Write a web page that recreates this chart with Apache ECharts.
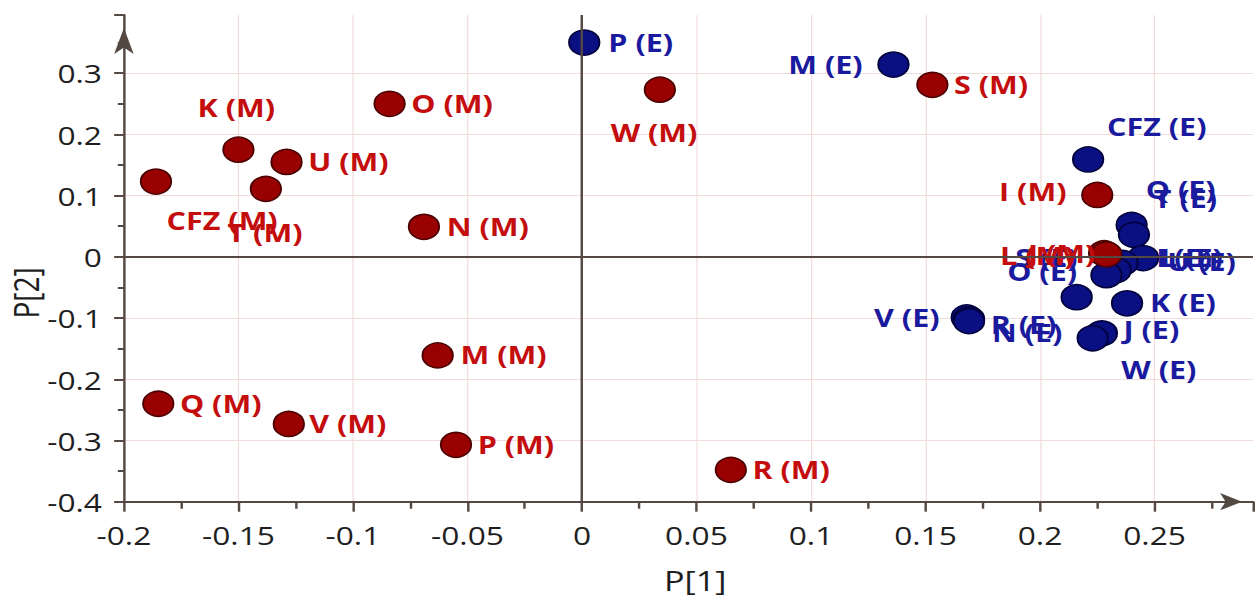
<!DOCTYPE html>
<html>
<head>
<meta charset="utf-8">
<script src="https://cdn.jsdelivr.net/npm/echarts@6/dist/echarts.min.js"></script>
<style>
  html, body { margin: 0; padding: 0; background: #fff; overflow: hidden; }
  /* the plot is laid out narrow and widened horizontally */
  #chart { width: 1029px; height: 605px; transform: scaleX(1.2196); transform-origin: 0 0; }
</style>
</head>
<body>
<div id="chart"></div>
<script>
// Scores of the (M) samples
const mNames = ['K', 'CFZ', 'T', 'U', 'O', 'N', 'W', 'M', 'P', 'V', 'Q', 'R', 'S', 'I', 'L', 'J'];
const mP1 = [-0.150, -0.186, -0.138, -0.129, -0.084, -0.069, 0.034, -0.063, -0.055, -0.128, -0.185, 0.065, 0.153, 0.225, 0.228, 0.229];
const mP2 = [0.175, 0.123, 0.111, 0.155, 0.250, 0.049, 0.273, -0.161, -0.307, -0.273, -0.240, -0.348, 0.281, 0.101, 0.006, 0.004];

// Scores of the (E) samples
const eNames = ['P', 'M', 'CFZ', 'Q', 'T', 'U', 'I', 'L', 'O', 'S', 'K', 'J', 'W', 'V', 'R', 'N'];
const eP1 = [0.001, 0.136, 0.221, 0.240, 0.241, 0.245, 0.236, 0.233, 0.229, 0.216, 0.238, 0.227, 0.223, 0.168, 0.169, 0.169];
const eP2 = [0.350, 0.314, 0.159, 0.052, 0.036, -0.002, -0.010, -0.022, -0.030, -0.066, -0.076, -0.125, -0.133, -0.099, -0.102, -0.105];

// Axis ranges
const xMin = -0.2, xMax = 0.293, xStep = 0.05;
const yMin = -0.4, yMax = 0.395, yStep = 0.1;

// Where each point's name is written relative to its marker
const place = {
  'K (M)': { off: [-1, -42] },
  'CFZ (M)': { off: [55, 39] },
  'T (M)': { off: [0, 44] },
  'U (M)': { side: 'right', d: 6 },
  'O (M)': { side: 'right', d: 6 },
  'N (M)': { side: 'right', d: 7 },
  'W (M)': { off: [-4, 43] },
  'M (M)': { side: 'right', d: 7 },
  'P (M)': { side: 'right', d: 6 },
  'V (M)': { side: 'right', d: 5 },
  'Q (M)': { side: 'right', d: 6 },
  'R (M)': { side: 'right', d: 6 },
  'S (M)': { side: 'right', d: 6 },
  'I (M)': { side: 'left', d: 12, dy: -3 },
  'L (M)': { off: [-54, 3] },
  'J (M)': { off: [-36, 0] },
  'P (E)': { side: 'right', d: 8 },
  'M (E)': { side: 'left', d: 12 },
  'CFZ (E)': { off: [57, -33] },
  'Q (E)': { off: [41, -35] },
  'T (E)': { off: [43, -36] },
  'U (E)': { side: 'right', d: 8, dy: 4 },
  'I (E)': { side: 'right', d: 16, dy: -5 },
  'L (E)': { off: [63, -12] },
  'O (E)': { off: [-52, -3] },
  'S (E)': { off: [-24, -39] },
  'K (E)': { side: 'right', d: 7 },
  'J (E)': { side: 'right', d: 6, dy: -3 },
  'W (E)': { off: [55, 32] },
  'V (E)': { side: 'left', d: 9 },
  'R (E)': { side: 'right', d: 6, dy: 6 },
  'N (E)': { side: 'right', d: 7, dy: 12 }
};

const AX = '#544842';
const FONT = '"Open Sans", "Noto Sans", sans-serif';
const DOT = 25;

// label anchor given in the marker's own box (0..DOT on both axes)
function labelFor(name) {
  const p = place[name] || { side: 'right', d: 6 };
  if (p.side === 'right') {
    return { position: [DOT + p.d, DOT / 2 + (p.dy || 0)], align: 'left', verticalAlign: 'middle' };
  }
  if (p.side === 'left') {
    return { position: [-p.d, DOT / 2 + (p.dy || 0)], align: 'right', verticalAlign: 'middle' };
  }
  return { position: [DOT / 2 + p.off[0], DOT / 2 + p.off[1]], align: 'center', verticalAlign: 'middle' };
}

function buildData(names, xs, ys, tag) {
  return names.map(function (n, i) {
    const full = n + ' (' + tag + ')';
    return { name: full, value: [xs[i], ys[i]], label: labelFor(full) };
  });
}

function pointSeries(names, xs, ys, tag, fill, edge, textColor, z) {
  return {
    type: 'scatter',
    z: z,
    symbol: 'circle',
    symbolSize: DOT,
    itemStyle: { color: fill, borderColor: edge, borderWidth: 1.5, opacity: 1 },
    label: {
      show: true,
      formatter: '{b}',
      color: textColor,
      fontFamily: FONT,
      fontWeight: 700,
      fontSize: 25
    },
    labelLayout: { hideOverlap: false },
    emphasis: { disabled: true },
    data: buildData(names, xs, ys, tag)
  };
}

const chart = echarts.init(document.getElementById('chart'), null, { renderer: 'svg' });

chart.setOption({
  animation: false,
  backgroundColor: '#ffffff',
  grid: { left: 101.6, right: 1.6, top: 15, bottom: 103.3 },
  xAxis: {
    type: 'value',
    min: xMin, max: xMax, interval: xStep,
    axisLine: {
      show: true, onZero: false,
      symbol: ['none', 'arrow'], symbolSize: [13, 18], symbolOffset: [0, -9],
      lineStyle: { color: AX, width: 2 }
    },
    axisTick: { show: true, length: 10, lineStyle: { color: AX, width: 2 } },
    minorTick: { show: true, splitNumber: 2, length: 7, lineStyle: { color: AX, width: 2 } },
    axisLabel: { showMaxLabel: false, margin: 20, color: '#1e1e1e', fontSize: 26, fontFamily: FONT },
    splitLine: { show: true, showMinLine: false, showMaxLine: false, lineStyle: { color: '#f1dcdc', width: 1 } }
  },
  yAxis: {
    type: 'value',
    min: yMin, max: yMax, interval: yStep,
    axisLine: {
      show: true, onZero: false,
      symbol: ['none', 'arrow'], symbolSize: [12, 26], symbolOffset: [0, -13],
      lineStyle: { color: AX, width: 2 }
    },
    axisTick: { show: true, length: 8, lineStyle: { color: AX, width: 2 } },
    minorTick: { show: true, splitNumber: 2, length: 5, lineStyle: { color: AX, width: 2 } },
    axisLabel: { showMaxLabel: false, margin: 18, color: '#1e1e1e', fontSize: 26, fontFamily: FONT },
    splitLine: { show: true, showMinLine: false, showMaxLine: false, lineStyle: { color: '#f1dcdc', width: 1 } }
  },
  graphic: [
    { type: 'text', x: 21, y: 293, rotation: Math.PI / 2,
      style: { text: 'P[2]', font: '28px ' + FONT, fill: '#1e1e1e', align: 'center', verticalAlign: 'middle' } },
    { type: 'text', x: 570, y: 580,
      style: { text: 'P[1]', font: '28px ' + FONT, fill: '#1e1e1e', align: 'center', verticalAlign: 'middle' } }
  ],
  series: [
    {
      // origin cross-hairs
      type: 'line', z: 1, data: [], silent: true,
      markLine: {
        silent: true, symbol: ['none', 'none'], label: { show: false },
        lineStyle: { color: AX, width: 2, type: 'solid' },
        data: [{ xAxis: 0 }, { yAxis: 0 }]
      }
    },
    pointSeries(mNames, mP1, mP2, 'M', '#990000', '#4a0000', '#c40d0d', 3),
    pointSeries(eNames, eP1, eP2, 'E', '#0a0f82', '#00003a', '#1a1a9e', 2)
  ]
});
</script>
</body>
</html>
